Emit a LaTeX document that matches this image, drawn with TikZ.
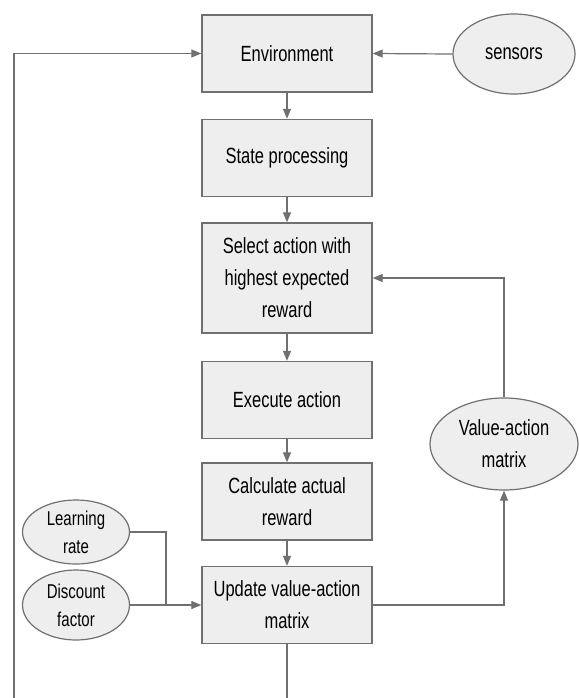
\documentclass[tikz,border=0pt]{standalone}
\usepackage{fontspec}
\setmainfont{Liberation Sans}[FakeStretch=0.75]
\usetikzlibrary{shapes.geometric,arrows.meta}

\definecolor{boxfill}{HTML}{EEEEEE}
\definecolor{edge}{HTML}{707070}

\tikzset{
  stage/.style={draw=edge, fill=boxfill, line width=0.7pt, minimum width=85pt, minimum height=38.5pt,
    align=center, inner sep=0pt, font=\fontsize{11}{16}\selectfont},
  source/.style={ellipse, draw=edge, fill=boxfill, line width=0.6pt, inner sep=0pt, align=center,
    font=\fontsize{11}{16}\selectfont},
  flow/.style={draw=edge, line width=0.6pt, -{Triangle[length=5pt,width=4pt]}},
  wire/.style={draw=edge, line width=0.6pt}
}

\begin{document}
\begin{tikzpicture}[x=0.5pt,y=-0.5pt]
\useasboundingbox[fill=white] (0,0) rectangle (579,698);

% main chain
\node[stage] (env) at (287,53.5) {Environment};
\node[stage] (state) at (287,158) {State processing};
\node[stage, minimum height=55pt] (select) at (287,278) {Select action with\\highest expected\\reward};
\node[stage] (exec) at (287,400) {Execute action};
\node[stage] (calc) at (287,501.5) {Calculate actual\\reward};
\node[stage] (update) at (287,605) {Update value-action\\matrix};

% inputs
\node[source, minimum width=61pt, minimum height=40pt] (sensors) at (514,54) {sensors};
\node[source, minimum width=74pt, minimum height=46pt] (vam) at (504,444) {Value-action\\matrix};
\node[source, minimum width=53.5pt, minimum height=32pt, font=\fontsize{10}{14}\selectfont] (lrate) at (76,532) {Learning\\rate};
\node[source, minimum width=53.5pt, minimum height=35pt, font=\fontsize{10}{14}\selectfont] (dfactor) at (76,605) {Discount\\factor};

\coordinate (join) at (166,605);
\coordinate (loop) at (14,720);

\foreach \a/\b in {env/state, state/select, select/exec, exec/calc, calc/update}
  \draw[flow] (\a) -- (\b);

\draw[flow] (sensors.west) -- (env.east);
\draw[wire] (lrate.east) -| (join);
\draw[flow] (dfactor.east) -- (update.west);
\draw[flow] (update.east) -| (vam.south);
\draw[flow] (vam.north) |- (select.east);
\draw[flow] (update.south) |- (loop) |- (env.west);
\end{tikzpicture}
\end{document}
